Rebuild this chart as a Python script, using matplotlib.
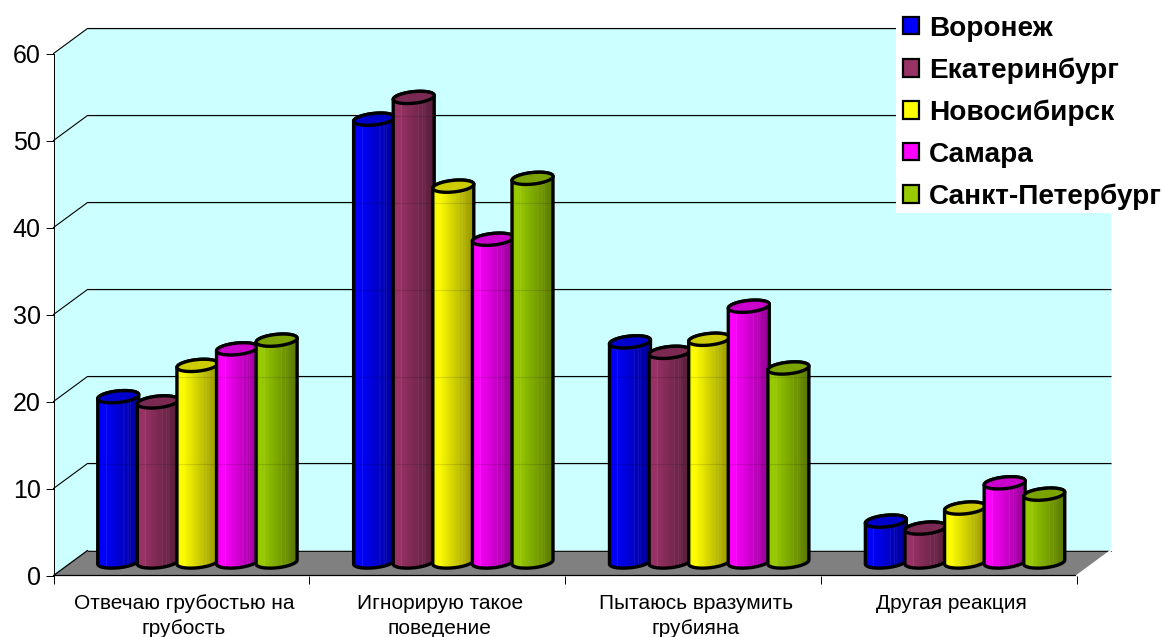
import numpy as np
import matplotlib
matplotlib.use("Agg")
import matplotlib.pyplot as plt
from matplotlib.patches import Polygon, Rectangle, Patch
from matplotlib.transforms import ScaledTranslation

categories = ["Отвечаю грубостью на\nгрубость", "Игнорирую такое\nповедение",
              "Пытаюсь вразумить\nгрубияна", "Другая реакция"]
voronezh = [19.0, 50.9, 25.3, 4.7]
ekaterinburg = [18.4, 53.4, 24.1, 3.9]
novosibirsk = [22.6, 43.2, 25.6, 6.2]
samara = [24.5, 37.1, 29.4, 9.1]
spb = [25.5, 44.1, 22.3, 7.8]
series_names = ["Воронеж", "Екатеринбург", "Новосибирск", "Самара", "Санкт-Петербург"]
series_values = [voronezh, ekaterinburg, novosibirsk, samara, spb]
series_colors = ["#0000ff", "#993366", "#ffff00", "#ff00ff", "#99cc00"]
y_ticks = [0, 10, 20, 30, 40, 50, 60]

W, H = 1163, 637
plt.rcParams["font.family"] = ["Liberation Sans", "DejaVu Sans"]
fig = plt.figure(figsize=(W / 100, H / 100), dpi=100, facecolor="white")
L, R, T, B = 53.5, 1077, 53.5, 575.5
ax = fig.add_axes([L / W, 1 - B / H, (R - L) / W, (B - T) / H])
ax.patch.set_visible(False)
for s in ["top", "right", "bottom"]:
    ax.spines[s].set_visible(False)
ax.spines["left"].set_linewidth(0.7)
ax.spines["left"].set_zorder(2)

px = 4 / (R - L)      # data units per pixel, x
py = 60 / (B - T)     # data units per pixel, y
dx, dy = 34 * px, 25 * py

# walls and floor
ax.add_patch(Polygon([(0, 0), (0, 60), (dx, 60 + dy), (4 + dx, 60 + dy), (4 + dx, dy), (4, 0)],
                     closed=True, fc="#ccffff", ec="none", clip_on=False, zorder=0))
for v in y_ticks[1:]:
    ax.plot([0, dx, 4 + dx], [v, v + dy, v + dy], color="black", lw=0.8, clip_on=False, zorder=1)
ax.add_patch(Polygon([(0, 0), (dx, dy), (4 + dx, dy), (4, 0)], closed=True,
                     fc="#808080", ec="none", clip_on=False, zorder=1))
ax.plot([dx, 0, 4], [dy, 0, 0], color="black", lw=0.9, clip_on=False, zorder=1.5)
ax.plot([dx, 4 + dx], [dy, dy], color="black", lw=0.6, clip_on=False, zorder=1.5)
ax.plot([4, 4 + dx], [0, dy], color="white", lw=1.2, clip_on=False, zorder=1.5)

# cylinders
bar_w = 41 * px
step = 39.6 * px
off_x = 16 * px
base = 13.5 * py
semi = 5.8 * py
slant = 2.0 * py
t_grad = np.linspace(0, 1, 200)
shade = np.interp(t_grad, [0, 0.12, 0.3, 1], [0.95, 1.0, 0.92, 0.58])
streak = np.zeros_like(t_grad)
for c, a in [(0.2, 0.16), (0.62, 0.12), (0.72, 0.14), (0.78, 0.1)]:
    streak[np.abs(t_grad - c) < 0.008] = a


def arc(cx, cy, t):
    return np.column_stack([cx + bar_w / 2 * np.cos(t),
                            cy + semi * np.sin(t) + slant * np.cos(t)])


z = 3.0
for j, (vals, col) in enumerate(zip(series_values, series_colors)):
    rgb = np.array(matplotlib.colors.to_rgb(col))
    grad = (shade[..., None] * rgb) * (1 - streak[..., None]) + streak[..., None]
    grad = np.clip(grad, 0, 1)[None, :, :]
    for i, v in enumerate(vals):
        cx = i + 0.5 + off_x + (j - 2) * step
        y0, y1 = base, base + v
        lower = arc(cx, y0, np.linspace(np.pi, 2 * np.pi, 50))
        upper = arc(cx, y1, np.linspace(0, np.pi, 50))
        body = Polygon(np.vstack([lower, upper]), closed=True, fc="none", ec="black",
                       lw=2.4, clip_on=False, zorder=z + 0.2, joinstyle="round")
        ax.add_patch(body)
        im = ax.imshow(grad, extent=[cx - bar_w / 2, cx + bar_w / 2, y0 - 2 * semi, y1 + 2 * semi],
                       aspect="auto", interpolation="bilinear", zorder=z, clip_on=True)
        im.set_clip_path(body)
        top = arc(cx, y1, np.linspace(0, 2 * np.pi, 100))
        ax.add_patch(Polygon(top, closed=True, fc=tuple(rgb * 0.8), ec="black", lw=2.4,
                             clip_on=False, zorder=z + 0.3))
    z += 1

# the faint trace of the gridlines that shows through the cylinders
for v in y_ticks[1:]:
    ax.plot([dx, 4 + dx], [v + dy, v + dy], color="black", lw=0.8, alpha=0.12,
            clip_on=False, zorder=z)

ax.set_xlim(0, 4)
ax.set_ylim(0, 60)

# axes ticks
ax.set_yticks(y_ticks)
ax.tick_params(axis="y", labelsize=18, length=5.8, width=0.7, pad=3.5)
ax.set_xticks(range(5))
ax.set_xticklabels([])
ax.set_xticks(np.arange(4) + 0.5, minor=True)
labels = ax.set_xticklabels(categories, minor=True, fontsize=15, linespacing=1.4)
ax.tick_params(axis="x", which="major", length=5.8, width=0.7)
ax.tick_params(axis="x", which="minor", length=0, pad=13.5)
shift = ScaledTranslation(2.5 / 100, 0, fig.dpi_scale_trans)
for lab in labels:
    lab.set_transform(lab.get_transform() + shift)

# legend
fig.add_artist(Rectangle((896 / W, 1 - 213 / H), (W - 896) / W, 213 / H,
                         transform=fig.transFigure, fc="white", ec="none", zorder=10))
handles = [Patch(fc=c, ec="black", lw=1.6) for c in series_colors]
leg = fig.legend(handles, series_names, loc="upper left",
                 bbox_to_anchor=(903 / W, 1 - 15.5 / H), frameon=False,
                 prop={"size": 20.2, "weight": "bold"}, handlelength=0.58, handleheight=0.58,
                 handletextpad=0.34, labelspacing=0.56, borderpad=0, borderaxespad=0)
leg.set_zorder(11)

fig.savefig("out.png", dpi=100)
